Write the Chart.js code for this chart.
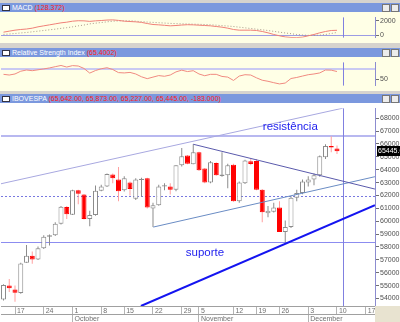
<!DOCTYPE html>
<html lang="pt-BR">
<head>
<meta charset="UTF-8">
<title>IBOVESPA</title>
<script src="https://cdn.jsdelivr.net/npm/chart.js"></script>
<style>
  body { margin: 0; width: 400px; height: 322px; background: #d6d3ce; position: relative; overflow: hidden;
         font-family: "Liberation Sans", Arial, sans-serif; }
  .bar { position: absolute; left: 0; width: 400px; height: 9px; background: #7b98de; color: #fff;
         font-size: 7px; line-height: 9px; white-space: nowrap; overflow: hidden; }
  .bar .ico { display: inline-block; width: 6px; height: 4px; background: #fff; border: 1px solid #334;
              margin: 0 2px 0 2px; vertical-align: -1px; }
  .bar .val { color: #ff2020; }
  .btns { position: absolute; right: 1px; top: 1px; line-height: 0; }
  .btns span { display: inline-block; width: 6px; height: 6px; background: #ececec; border: 1px solid #777; margin-left: 1px; }
  .pane { position: absolute; left: 0; line-height: 0; }
  .pane canvas { display: block; }
  .ind { background: #ffffe6; }
  .main { background: #ffffff; }
  .corner { position: absolute; left: 375px; top: 306px; width: 25px; height: 16px; background: #e8e3d0; }
</style>
</head>
<body>
  <div class="bar" style="top:3px"><span class="ico"></span>MACD <span class="val">(128.372)</span>
    <div class="btns"><span></span><span></span></div></div>
  <div class="pane" style="top:12px"><canvas id="macdChart" class="ind" width="400" height="31"></canvas></div>

  <div class="bar" style="top:48px"><span class="ico"></span>Relative Strength Index <span class="val">(65.4002)</span>
    <div class="btns"><span></span><span></span></div></div>
  <div class="pane" style="top:57px"><canvas id="rsiChart" class="ind" width="400" height="34"></canvas></div>

  <div class="bar" style="top:94px"><span class="ico"></span>IBOVESPA <span class="val">(65,642.00, 65,873.00, 65,227.00, 65,445.00, -183.000)</span>
    <div class="btns"><span></span><span></span></div></div>
  <div class="pane" style="top:103px"><canvas id="priceChart" class="main" width="400" height="219"></canvas></div>
  <div class="corner"></div>

<script>
// trading day index -> tick labels (Mondays / first day of month)
const tickIdx = [2, 7, 12, 17, 21, 26, 31, 34, 40, 44, 48, 53, 58, 63];
const tickLabels = ['17', '24', '1', '8', '15', '22', '29', '5', '12', '19', '26', '3', '10', '17'];
const monthIdx = [12, 34, 53];
const monthLabels = ['October', 'November', 'December'];

// IBOVESPA daily candles
const open = [53920, 55000, 54700, 54420, 56770, 57320, 57020, 57900, 58790, 58910,
  59800, 61110, 60500, 62400, 62070, 60180, 60480, 62370, 62700, 63630,
  63250, 62400, 63000, 61740, 63200, 63330, 60980, 61240, 62700, 62700,
  62450, 64340, 65100, 64420, 65350, 64090, 63000, 64520, 63510, 63580,
  64390, 61560, 62950, 64650, 64670, 62450, 60630, 60730, 61060, 59170,
  59550, 61820, 62200, 63000, 63250, 63580, 64970, 65850, 65642];
const high = [55100, 55510, 55000, 56770, 58160, 57650, 58030, 58910, 58970, 59920,
  61190, 61190, 62450, 62450, 62120, 60810, 62780, 62830, 63710, 63710,
  64210, 63500, 63080, 63330, 63380, 63380, 61440, 62830, 62950, 62950,
  64340, 65680, 65150, 65980, 65400, 64140, 64670, 64590, 65350, 64470,
  64470, 63080, 64770, 64850, 64840, 62500, 61190, 61440, 61560, 60050,
  61940, 62450, 63250, 63500, 63700, 65100, 65980, 66610, 65873];
const low = [53850, 54500, 53750, 54370, 56770, 56700, 56990, 57850, 58110, 58860,
  59750, 60180, 60480, 61310, 60130, 59620, 60430, 62320, 62650, 62950,
  61560, 62300, 62000, 61640, 61900, 60980, 59550, 61200, 62400, 62070,
  62320, 64260, 64420, 64420, 63910, 62950, 62950, 63530, 63450, 62570,
  61510, 61440, 62900, 64340, 62400, 59920, 60300, 60680, 59170, 58350,
  59470, 61560, 62100, 62700, 62800, 63450, 64840, 65350, 65227];
const close = [55050, 54800, 54450, 56720, 57320, 57020, 57900, 58790, 58910, 59800,
  61130, 60550, 62400, 62140, 60180, 60480, 62370, 62700, 63660, 63330,
  62320, 63330, 62500, 63250, 63300, 61060, 61240, 62700, 62800, 62450,
  64340, 65050, 64470, 65350, 63960, 63000, 64590, 63580, 63630, 64340,
  61560, 63000, 64720, 64450, 62450, 60700, 60810, 61060, 59170, 59550,
  61820, 62200, 63080, 63250, 63580, 65050, 65850, 65730, 65445];

// indicators
const macd = [436, 573, 709, 800, 864, 982, 1164, 1300, 1436, 1573,
  1709, 1800, 1936, 2000, 1982, 1909, 1982, 2027, 2091, 2118,
  2045, 1936, 1891, 1845, 1773, 1618, 1482, 1436, 1373, 1300,
  1345, 1409, 1455, 1436, 1391, 1345, 1300, 1209, 1118, 982,
  800, 709, 709, 709, 664, 527, 345, 118, -64, -218,
  -291, -309, -245, -64, 118, 345, 527, 664, 691];
const signal = [136, 182, 255, 327, 391, 482, 573, 664, 755, 845,
  955, 1045, 1164, 1300, 1409, 1573, 1664, 1755, 1845, 1936,
  1982, 2000, 1982, 1936, 1864, 1818, 1773, 1727, 1682, 1636,
  1600, 1573, 1555, 1527, 1509, 1482, 1436, 1391, 1327, 1273,
  1209, 1118, 1027, 936, 845, 755, 664, 545, 436, 327,
  227, 118, 45, 0, 0, 27, 118, 255, 391];
const rsi = [60, 58.7, 60.7, 66, 68.3, 67, 68.7, 70.4, 72.3, 74.7,
  77, 74, 76.7, 76, 71.3, 62.4, 67.3, 70.7, 72.7, 69.3,
  63.3, 62.7, 63.7, 60.7, 55.3, 51.7, 54.7, 57.6, 56.3, 58.7,
  64.7, 68, 65.3, 67, 60.7, 57.3, 60, 60, 56, 54.7,
  48.3, 56.7, 59.3, 58.7, 53.3, 48.7, 46.7, 44, 41.6, 43.3,
  52, 54, 56.7, 59.3, 60.7, 62.7, 68.3, 68, 65.4];

const priceTicks = [54000, 55000, 56000, 57000, 58000, 59000, 60000, 61000,
  62000, 63000, 64000, 65000, 66000, 67000, 68000];
const macdTicks = [0, 1000, 2000];
const rsiTicks = [50];

// drawn studies: [index, value] end points
const channelTop = [[-0.45, 62910], [59, 68780]];
const downLine = [[33, 65979], [64.6, 62498]];
const riseLine = [[26.05, 59547], [64.6, 63459]];
const supportLine = [[23.9, 53417], [64.6, 61242]];
const resistLevel = 66600, pivotLevel = 61950, supportLevel = 58400;
const cursorIdx = 59;

const X_MIN = -0.435, X_MAX = 64.61;
const FONT = '"Liberation Sans", Arial, sans-serif';
Chart.defaults.font.family = FONT;
Chart.defaults.font.size = 7;

const marks = {
  id: 'marks',
  beforeDatasetsDraw(chart, args, o) {
    const { ctx, chartArea: a, scales: { x, y } } = chart;
    ctx.save();
    ctx.beginPath(); ctx.rect(a.left, a.top, a.width, a.height); ctx.clip();
    (o.hLines || []).forEach(h => {
      const py = Math.round(y.getPixelForValue(h.v)) + (h.width % 2 ? 0.5 : 0);
      ctx.strokeStyle = h.color; ctx.lineWidth = h.width; ctx.setLineDash(h.dash || []);
      ctx.beginPath(); ctx.moveTo(a.left, py); ctx.lineTo(a.right, py); ctx.stroke();
    });
    if (o.vLine != null) {
      const px = Math.round(x.getPixelForValue(o.vLine)) + 0.5;
      ctx.strokeStyle = '#8080e0'; ctx.lineWidth = 1; ctx.setLineDash([]);
      ctx.beginPath(); ctx.moveTo(px, a.top); ctx.lineTo(px, a.bottom); ctx.stroke();
    }
    ctx.restore();
  },
  afterDraw(chart, args, o) {
    const { ctx, chartArea: a, scales: { x, y } } = chart;
    ctx.save();
    (o.texts || []).forEach(t => {
      ctx.font = '11.5px ' + FONT; ctx.fillStyle = '#2222ee';
      ctx.textAlign = 'left'; ctx.textBaseline = 'middle';
      ctx.fillText(t.text, x.getPixelForValue(t.i), y.getPixelForValue(t.v));
    });
    if (o.priceBox != null) {
      const py = Math.round(y.getPixelForValue(o.priceBox));
      ctx.fillStyle = '#000'; ctx.fillRect(a.right + 2, py - 5, 30, 10);
      ctx.fillStyle = '#fff'; ctx.font = '7px ' + FONT;
      ctx.textAlign = 'left'; ctx.textBaseline = 'middle';
      ctx.fillText(o.priceBox.toFixed(2), a.right + 3, py);
    }
    ctx.restore();
  }
};

function rightAxis(min, max, ticks) {
  return {
    position: 'right', min, max,
    afterBuildTicks: s => { s.ticks = ticks.map(v => ({ value: v })); },
    afterFit: s => { s.width = 25; },
    grid: { drawOnChartArea: false, tickLength: 4, color: '#707070' },
    border: { color: '#8c8cd0' },
    ticks: { color: '#505050', padding: 1, font: { size: 7 }, callback: v => String(v) }
  };
}
function bottomAxis(ticks, labels) {
  return {
    type: 'linear', position: 'bottom', min: X_MIN, max: X_MAX, offset: false,
    afterBuildTicks: s => { s.ticks = ticks.map(v => ({ value: v })); },
    afterFit: s => { s.height = 8; },
    grid: { drawOnChartArea: false, tickLength: 8, color: '#b4b4b4', offset: false },
    border: { color: '#a0a0a0' },
    ticks: { color: '#707070', align: 'start', padding: -7, autoSkip: false, maxRotation: 0,
      callback: (v, k) => ' ' + labels[k] }
  };
}
const hiddenX = { type: 'linear', display: false, min: X_MIN, max: X_MAX };
const idx = macd.map((v, i) => i);
const base = { responsive: false, animation: false, events: [], layout: { padding: { left: 1 } } };

// MACD
new Chart(document.getElementById('macdChart'), {
  type: 'line',
  data: {
    datasets: [
      { data: idx.map(i => ({ x: i, y: macd[i] })), borderColor: '#f08078', borderWidth: 1, pointRadius: 0 },
      { data: idx.map(i => ({ x: i, y: signal[i] })), borderColor: '#a89888', borderWidth: 1, borderDash: [1, 2], pointRadius: 0 }
    ]
  },
  options: {
    ...base,
    plugins: { legend: { display: false }, tooltip: { enabled: false },
      marks: { hLines: [{ v: 0, color: '#9c9ce4', width: 1 }], vLine: cursorIdx } },
    scales: { x: hiddenX, y: rightAxis(-336, 2482, macdTicks) }
  },
  plugins: [marks]
});

// RSI
new Chart(document.getElementById('rsiChart'), {
  type: 'line',
  data: {
    datasets: [
      { data: idx.map(i => ({ x: i, y: rsi[i] })), borderColor: '#f08a80', borderWidth: 1, pointRadius: 0 }
    ]
  },
  options: {
    ...base,
    plugins: { legend: { display: false }, tooltip: { enabled: false },
      marks: { hLines: [{ v: 70, color: '#cacaf2', width: 2 }], vLine: cursorIdx } },
    scales: { x: hiddenX, y: rightAxis(38, 83.3, rsiTicks) }
  },
  plugins: [marks]
});

// price
const isDown = idx.map(i => close[i] < open[i]);
const seg = (pts, color, width) => ({
  type: 'line', data: pts.map(p => ({ x: p[0], y: p[1] })),
  borderColor: color, borderWidth: width, pointRadius: 0
});
new Chart(document.getElementById('priceChart'), {
  type: 'bar',
  data: {
    datasets: [
      seg(supportLine, '#1414f0', 2),
      seg(downLine, '#5a5aac', 1),
      seg(riseLine, '#6a8cc4', 1),
      seg(channelTop, '#a8a8e0', 1),
      {
        data: idx.map(i => ({ x: i, y: [open[i], close[i]] })),
        backgroundColor: isDown.map(d => d ? '#ff0000' : '#ffffff'),
        borderColor: isDown.map(d => d ? '#ff0000' : '#8c8c8c'),
        borderWidth: 1, borderSkipped: false, inflateAmount: 0, barThickness: 5, grouped: false
      },
      {
        data: idx.map(i => ({ x: i, y: [low[i], high[i]] })),
        backgroundColor: isDown.map(d => d ? '#ffa0a0' : '#8c8c8c'),
        borderWidth: 0, inflateAmount: 0, barThickness: 1, grouped: false
      }
    ]
  },
  options: {
    ...base,
    plugins: {
      legend: { display: false }, tooltip: { enabled: false },
      marks: {
        hLines: [
          { v: resistLevel, color: '#b8b8f0', width: 2 },
          { v: pivotLevel, color: '#7878e0', width: 1, dash: [2, 2] },
          { v: supportLevel, color: '#8c8cf0', width: 1 }
        ],
        vLine: cursorIdx,
        texts: [{ text: 'resistência', i: 45.1, v: 67300 }, { text: 'suporte', i: 31.7, v: 57580 }],
        priceBox: close[close.length - 1]
      }
    },
    scales: {
      x: bottomAxis(tickIdx, tickLabels),
      xm: bottomAxis(monthIdx, monthLabels),
      y: { ...rightAxis(53417, 68779, priceTicks), beginAtZero: false }
    }
  },
  plugins: [marks]
});
</script>
</body>
</html>
